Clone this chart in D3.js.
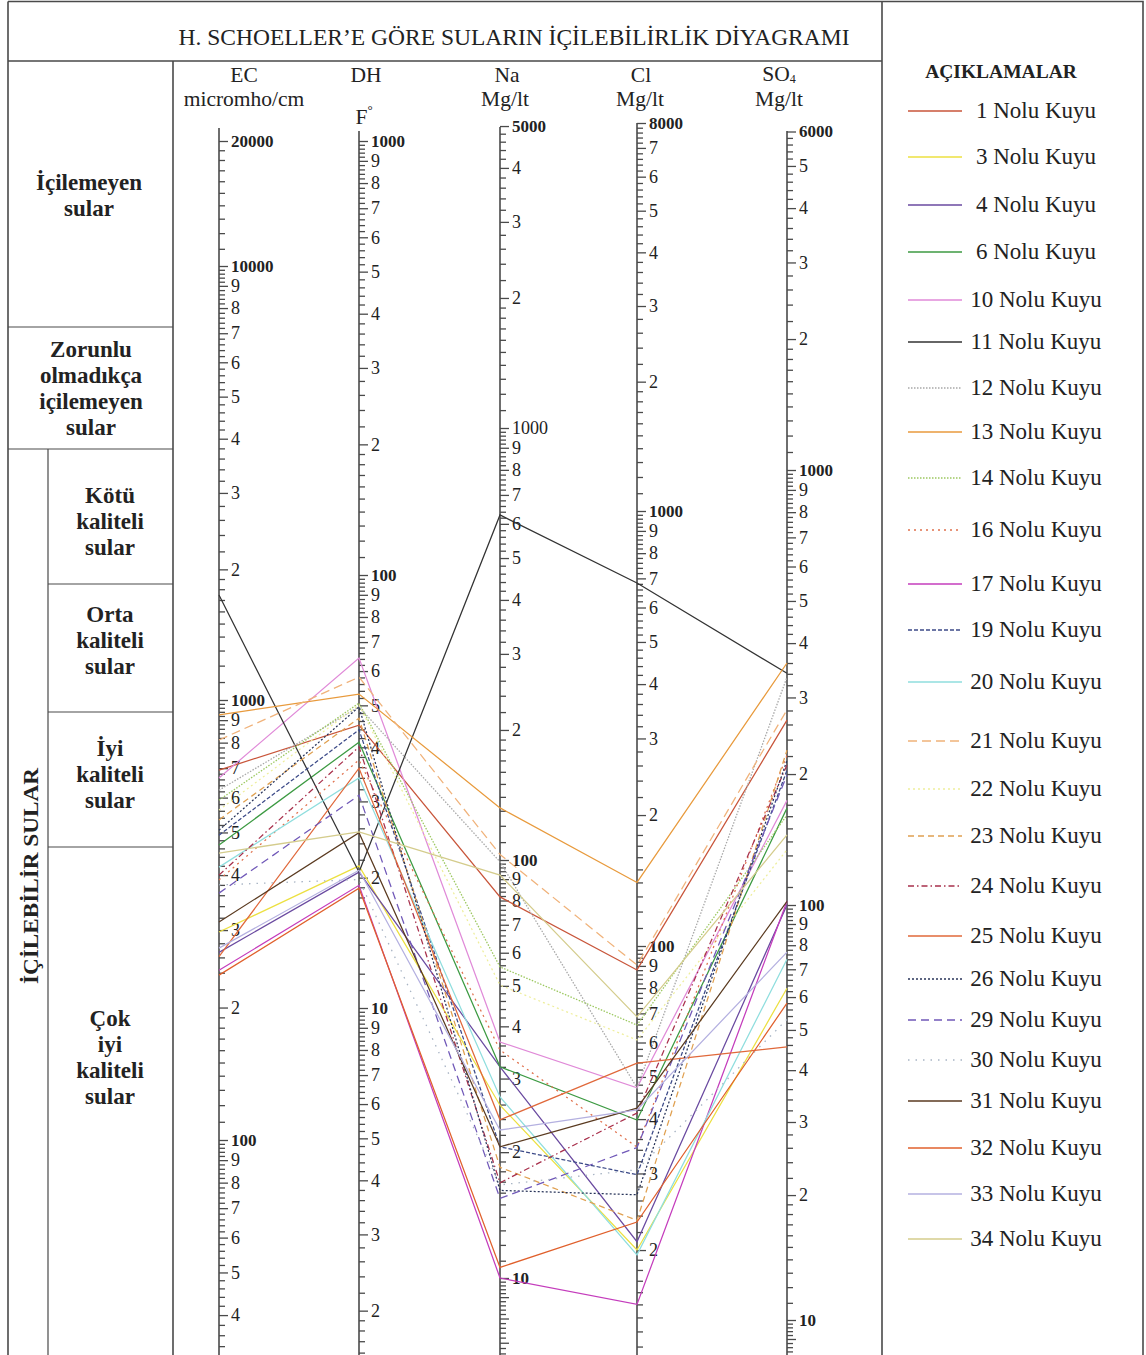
<!DOCTYPE html>
<html><head><meta charset="utf-8">
<script src="https://cdn.jsdelivr.net/npm/d3@7"></script>
<style>
body{margin:0;background:#fff}
svg{display:block}
text{font-family:"Liberation Serif","Times New Roman",serif;fill:#222}
</style>
</head><body>
<svg id="c" width="1146" height="1355"></svg>
<script>
// ---------- DATA ----------
const parameters = ["EC", "DH", "Na", "Cl", "SO4"];
const wells = ["1","3","4","6","10","11","12","13","14","16","17","19","20","21","22","23","24","25","26","29","30","31","32","33","34"];
const ecValues  = [693, 297, 267, 468, 665, 1745, 624, 925, 592, 390, 243, 493, 417, 811, 562, 534, 400, 261, 506, 364, 380, 313, 237, 273, 449];
const dhValues  = [45.0, 21.3, 20.6, 41.1, 64.3, 20.6, 49.6, 53.1, 50.6, 37.4, 19.2, 43.9, 34.0, 58.1, 50.1, 46.7, 40.1, 35.8, 49.6, 31.0, 19.8, 25.4, 18.9, 20.8, 25.5];
const naValues  = [81.6, 25.9, 32.0, 32.0, 36.7, 629, 99, 132, 55.5, 35.1, 10.0, 20.6, 27.1, 103, 50.2, 18.4, 16.9, 23.9, 16.2, 15.5, 16.7, 20.6, 10.6, 22.6, 92];
const clValues  = [88.1, 20.0, 20.9, 39.8, 47.2, 683, 47.2, 140, 65.8, 34.5, 15.0, 29.8, 19.5, 90.4, 60.8, 23.4, 41.3, 53.8, 26.8, 34.4, 30.6, 42.4, 23.2, 42.0, 68.7];
const so4Values = [266, 63, 100, 167, 174, 341, 334, 360, 161, 221, 102, 204, 74, 281, 134, 227, 210, 45.5, 215, 199, 53, 102, 58, 77, 145];

// styles (kept apart from the values)
const lineColors = ["#c8553a","#ece040","#6a4aa0","#3c9a42","#e08ad8","#333333","#a8a8a8","#e89a3c","#9cc860","#e0704c","#c43cbc","#3c4a88","#8fdede","#f0b27a","#eeee9c","#e0a050","#a8304c","#e0683a","#28345a","#7058b8","#a8b4c4","#5a3a20","#e0602c","#b4b0e0","#d4cc8c"];
const lineDashes = [null,null,null,null,null,null,"1.5,1.5",null,"1.5,1.5","2,4",null,"4,2",null,"9,5","2,3","6,4","6,3,1.5,3",null,"2,2","8,5","1.5,6",null,null,null,null];

const boldLabels = {EC:[20000,10000,1000,100], DH:[1000,100,10], Na:[5000,100,10], Cl:[8000,1000,100], SO4:[6000,1000,100,10]};
const fullLabels = {EC:[20000,10000,1000,100], DH:[1000,100,10], Na:[5000,1000,100,10], Cl:[8000,1000,100], SO4:[6000,1000,100,10]};
const lowestLabel = {EC:0, DH:0, Na:10, Cl:0, SO4:10};

const legendNames = wells.map(w => w + " Nolu Kuyu");

// ---------- LAYOUT ----------
const svg = d3.select("#c");
const x = d3.scaleOrdinal().domain(parameters).range([219, 359, 500, 637, 787]);
const yScales = {
  EC:  d3.scaleLog().domain([20000, 10000, 1000, 100]).range([141, 266, 700, 1140]),
  DH:  d3.scaleLog().domain([1000, 100, 10]).range([141, 575, 1008]),
  Na:  d3.scaleLog().domain([1000, 100, 10]).range([428, 860, 1278]),
  Cl:  d3.scaleLog().domain([8000, 1000, 100]).range([123, 511, 946]),
  SO4: d3.scaleLog().domain([1000, 100, 10]).range([470, 905, 1320])
};
const axisTop = {EC:128, DH:131, Na:127, Cl:123, SO4:131};
const axisBottom = 1355;

const stroke = "#4a4a4a";
// frames
const frame = svg.append("g").attr("fill","none").attr("stroke",stroke).attr("stroke-width",1.6);
frame.append("path").attr("d","M8,1.5 H1143 V1355 M8,1.5 V1355 M8,61 H882 M882,1.5 V1355 M173,61 V1355");
frame.append("path").attr("d","M8,327 H173 M8,449 H173 M48,449 V1355 M48,584 H173 M48,712 H173 M48,847 H173").attr("stroke-width",1.2);

// title
svg.append("text").attr("x",514).attr("y",45).attr("text-anchor","middle").attr("font-size",23.5)
  .text("H. SCHOELLER\u2019E GÖRE SULARIN İÇİLEBİLİRLİK DİYAGRAMI");

// left panel
const bold = (lines, cx, y0, dy) => lines.forEach((t,i)=>svg.append("text").attr("x",cx).attr("y",y0+i*dy)
  .attr("text-anchor","middle").attr("font-size",23).attr("font-weight","bold").text(t));
bold(["İçilemeyen","sular"], 89, 190, 26);
bold(["Zorunlu","olmadıkça","içilemeyen","sular"], 91, 357, 26);
bold(["Kötü","kaliteli","sular"], 110, 503, 26);
bold(["Orta","kaliteli","sular"], 110, 622, 26);
bold(["İyi","kaliteli","sular"], 110, 756, 26);
bold(["Çok","iyi","kaliteli","sular"], 110, 1026, 26);
svg.append("text").attr("transform","translate(38,876) rotate(-90)").attr("text-anchor","middle")
  .attr("font-size",22).attr("font-weight","bold").attr("textLength",216).attr("lengthAdjust","spacingAndGlyphs")
  .text("İÇİLEBİLİR SULAR");

// headers
const hs = 21.5;
const hdr = (t, cx, y) => svg.append("text").attr("x",cx).attr("y",y).attr("text-anchor","middle").attr("font-size",hs).text(t);
hdr("EC",244,82); hdr("micromho/cm",244,106);
hdr("DH",366,82);
const fh = svg.append("text").attr("x",364).attr("y",124).attr("text-anchor","middle").attr("font-size",hs);
fh.append("tspan").text("F"); fh.append("tspan").attr("dy",-10).attr("font-size",13).text("°");
hdr("Na",507,82); hdr("Mg/lt",505,106);
hdr("Cl",641,82); hdr("Mg/lt",640,106);
const so = svg.append("text").attr("x",779).attr("y",81).attr("text-anchor","middle").attr("font-size",hs);
so.append("tspan").text("SO"); so.append("tspan").attr("dy",2).attr("font-size",12).text("4");
hdr("Mg/lt",779,106);

// axes with ticks
function tickSets(scale, top, bottom){
  const vmax = scale.invert(top), vmin = scale.invert(bottom);
  const majors = [], minors = [];
  for (let p = Math.floor(Math.log10(vmin)); p <= Math.ceil(Math.log10(vmax)); p++){
    const b = Math.pow(10,p);
    for (let d = 1; d <= 9; d++){
      const v = +(d*b).toPrecision(6);
      if (v >= vmin && v <= vmax*1.0001) majors.push(v);
      const n = d === 1 ? 10 : 5;
      for (let k = 1; k < n; k++){
        const m = +(d*b + k*b/n).toPrecision(6);
        if (m >= vmin && m <= vmax) minors.push(m);
      }
    }
  }
  return {majors, minors};
}
parameters.forEach(p => {
  const s = yScales[p];
  const g = svg.append("g").attr("transform",`translate(${x(p)},0)`);
  g.append("line").attr("y1",axisTop[p]).attr("y2",axisBottom).attr("stroke",stroke).attr("stroke-width",1.6);
  const {majors, minors} = tickSets(s, axisTop[p], axisBottom);
  const top = s.invert(axisTop[p]);
  const gm = g.append("g").call(d3.axisRight(s).tickValues(minors).tickSize(6).tickFormat(""));
  const gM = g.append("g").call(d3.axisRight(s).tickValues(majors.concat(fullLabels[p].filter(v=>v>=top*0.999 && !majors.includes(v))))
      .tickSize(9).tickPadding(3)
      .tickFormat(v => v < lowestLabel[p] ? "" : fullLabels[p].includes(v) ? String(v) : String(Math.round(v/Math.pow(10,Math.floor(Math.log10(v)+1e-9))))));
  [gm,gM].forEach(a => { a.select(".domain").remove(); a.selectAll("line").attr("stroke",stroke).attr("stroke-width",1.3); });
  gM.selectAll("text").attr("fill","#333")
    .attr("font-family","'Liberation Serif',serif")
    .attr("font-weight", v => boldLabels[p].includes(v) ? "bold" : "normal")
    .attr("font-size", v => boldLabels[p].includes(v) ? 17 : 18);
});

// well lines
const line = d3.line();
const rows = wells.map((w,i) => ({well:w, i, vals:[ecValues[i], dhValues[i], naValues[i], clValues[i], so4Values[i]]}));
svg.append("g").attr("fill","none").selectAll("path").data(rows).join("path")
  .attr("d", r => line(parameters.map((p,j) => [x(p), yScales[p](r.vals[j])])))
  .attr("stroke", r => lineColors[r.i])
  .attr("stroke-width", r => lineDashes[r.i] && lineDashes[r.i].startsWith("1.5") ? 1.3 : 1.25)
  .attr("stroke-dasharray", r => lineDashes[r.i]);

// legend
svg.append("text").attr("x",1001).attr("y",78).attr("text-anchor","middle").attr("font-size",19.5).attr("font-weight","bold").text("AÇIKLAMALAR");
const legendY = d3.scaleOrdinal().domain(wells).range([111,157,205,252,300,342,388,432,478,530,584,630,682,741,789,836,886,936,979,1020,1060,1101,1148,1194,1239]);
const lg = svg.append("g").selectAll("g").data(rows).join("g").attr("transform", r => `translate(0,${legendY(r.well)})`);
lg.append("line").attr("x1",908).attr("x2",962).attr("stroke", r=>lineColors[r.i]).attr("stroke-width",1.4)
  .attr("stroke-dasharray", r=>lineDashes[r.i]);
lg.append("text").attr("x",1036).attr("y",7).attr("text-anchor","middle").attr("font-size",23).text(r => legendNames[r.i]);
</script>
</body></html>
